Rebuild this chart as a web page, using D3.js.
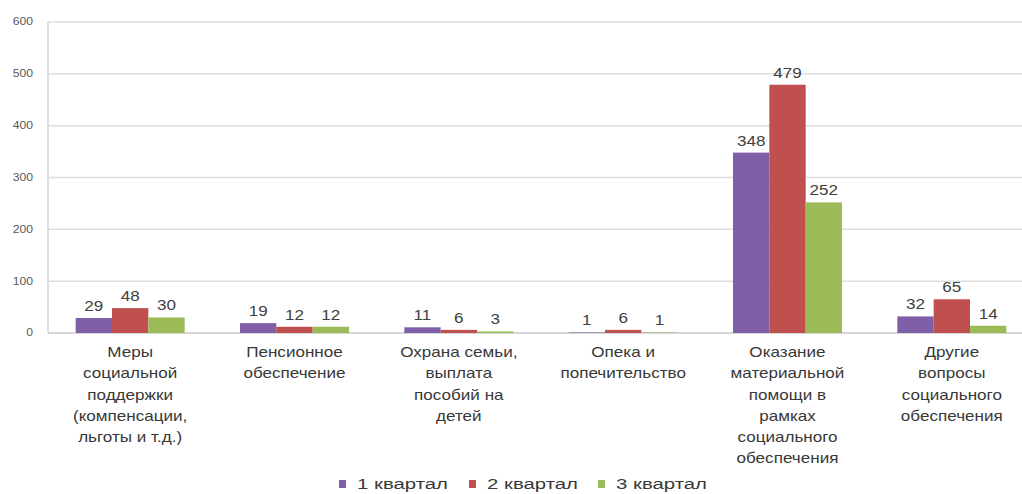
<!DOCTYPE html>
<html>
<head>
<meta charset="utf-8">
<script src="https://cdn.jsdelivr.net/npm/d3@7"></script>
<style>
  html, body { margin: 0; padding: 0; background: #fff; }
  svg { display: block; }
  text { font-family: "Liberation Sans", Arial, sans-serif; }
</style>
</head>
<body>
<svg id="chart"></svg>
<script>
const categories = [
    ["Меры", "социальной", "поддержки", "(компенсации,", "льготы и т.д.)"],
    ["Пенсионное", "обеспечение"],
    ["Охрана семьи,", "выплата", "пособий на", "детей"],
    ["Опека и", "попечительство"],
    ["Оказание", "материальной", "помощи в", "рамках", "социального", "обеспечения"],
    ["Другие", "вопросы", "социального", "обеспечения"],
]
const series = ["1 квартал", "2 квартал", "3 квартал"]
const q1 = [29, 19, 11, 1, 348, 32]
const q2 = [48, 12, 6, 6, 479, 65]
const q3 = [30, 12, 3, 1, 252, 14]
const yTicks = [0, 100, 200, 300, 400, 500, 600]
const colors = ["#7f60a8", "#c0504d", "#9bbb59"]

// the picture is stretched sideways, so draw in a narrower viewBox
const SX = 1.22
const width = 1022, height = 494
const vw = width / SX
const X = p => p / SX

const svg = d3.select("#chart")
    .attr("width", width)
    .attr("height", height)
    .attr("viewBox", `0 0 ${vw} ${height}`)
    .attr("preserveAspectRatio", "none")

const values = [q1, q2, q3]
const rows = categories.map((c, i) => ({i, lines: c, vals: values.map(s => s[i])}))

const x0 = d3.scaleBand()
    .domain(d3.range(categories.length))
    .range([X(48), X(1034)])
const groupW = X(109)
const x1 = d3.scaleBand()
    .domain(d3.range(series.length))
    .range([(x0.bandwidth() - groupW) / 2, (x0.bandwidth() + groupW) / 2])
const y = d3.scaleLinear().domain([0, 600]).range([333, 22])

// grid
svg.append("g")
  .selectAll("line")
  .data(yTicks)
  .enter().append("line")
    .attr("x1", X(48)).attr("x2", vw)
    .attr("y1", d => y(d)).attr("y2", d => y(d))
    .attr("stroke", d => d === 0 ? "#c8c8c8" : "#dedede")
    .attr("stroke-width", 1.5)

svg.append("line")
    .attr("x1", X(48)).attr("x2", X(48))
    .attr("y1", y(600)).attr("y2", y(0))
    .attr("stroke", "#dedede")
    .attr("stroke-width", 1.5)

svg.append("g")
  .selectAll("text")
  .data(yTicks)
  .enter().append("text")
    .attr("x", X(33))
    .attr("y", d => y(d) + 3.5)
    .attr("text-anchor", "end")
    .attr("font-size", 10)
    .attr("fill", "#595959")
    .text(d => d)

// bars
let group = svg.append("g")
  .selectAll("g")
  .data(rows)
  .enter().append("g")
    .attr("transform", d => `translate(${x0(d.i)},0)`)

group.selectAll("rect")
  .data(d => d.vals)
  .enter().append("rect")
    .attr("x", (d, j) => x1(j))
    .attr("width", x1.bandwidth())
    .attr("y", d => y(d))
    .attr("height", d => y(0) - y(d))
    .attr("fill", (d, j) => colors[j])

group.selectAll("text.val")
  .data(d => d.vals)
  .enter().append("text")
    .attr("class", "val")
    .attr("x", (d, j) => x1(j) + x1.bandwidth() / 2)
    .attr("y", d => y(d) - 7)
    .attr("text-anchor", "middle")
    .attr("font-size", 14)
    .attr("fill", "#404040")
    .text(d => d)

// category labels
group.append("text")
    .attr("text-anchor", "middle")
    .attr("font-size", 14)
    .attr("fill", "#383838")
  .selectAll("tspan")
  .data(d => d.lines)
  .enter().append("tspan")
    .attr("x", x0.bandwidth() / 2)
    .attr("y", (d, k) => 357 + k * 21.3)
    .text(d => d)

// legend
const legendX = [339, 469, 598]
let legend = svg.append("g")
  .selectAll("g")
  .data(series)
  .enter().append("g")
    .attr("transform", (d, i) => `translate(${X(legendX[i])},0)`)

legend.append("rect")
    .attr("y", 480)
    .attr("width", X(7))
    .attr("height", 8)
    .attr("fill", (d, i) => colors[i])

legend.append("text")
    .attr("x", X(18))
    .attr("y", 489)
    .attr("font-size", 15)
    .attr("fill", "#383838")
    .attr("textLength", X(91))
    .attr("lengthAdjust", "spacingAndGlyphs")
    .text(d => d)
</script>
</body>
</html>
